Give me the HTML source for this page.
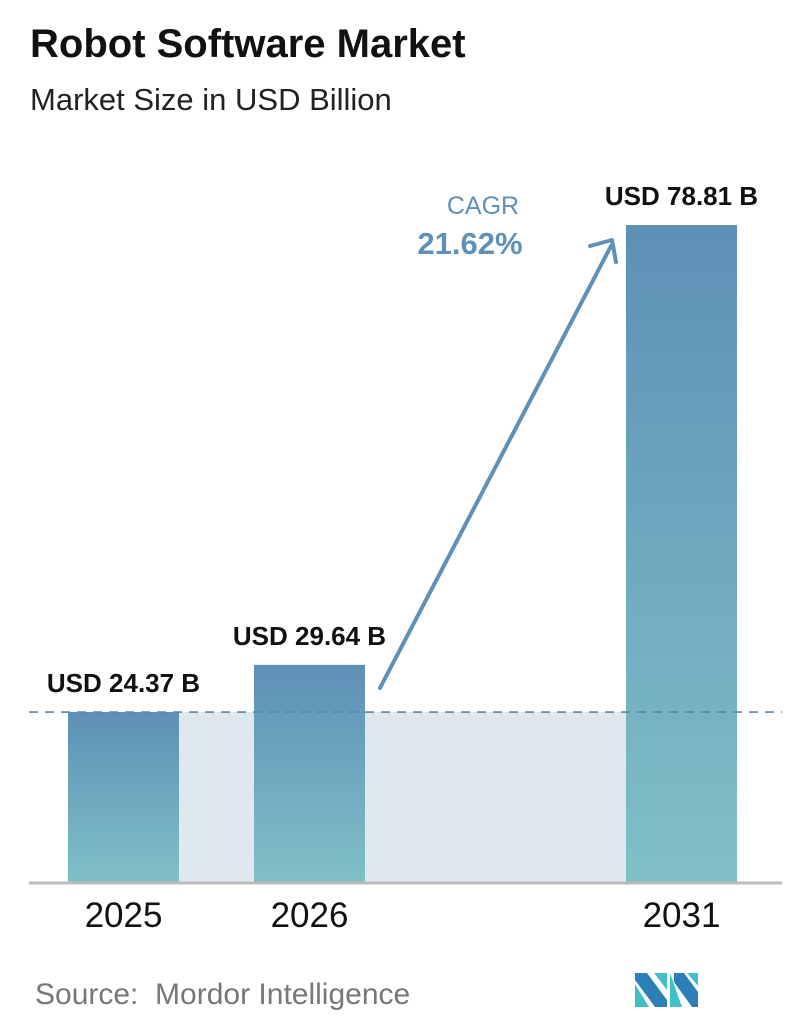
<!DOCTYPE html>
<html><head><meta charset="utf-8"><style>
body{margin:0;width:796px;height:1034px;background:#fff;font-family:"Liberation Sans",sans-serif;overflow:hidden;position:relative}
.t{position:absolute;white-space:nowrap}
</style></head><body>
<div class="t" style="left:30px;top:22px;font-size:40px;font-weight:bold;color:#111">Robot Software Market</div>
<div class="t" style="left:30px;top:82px;font-size:31px;color:#222">Market Size in USD Billion</div>
<svg id="chart" width="796" height="1034" style="position:absolute;left:0;top:0">
<defs><linearGradient id="g" x1="0" y1="0" x2="0" y2="1"><stop offset="0" stop-color="#5e90b6"/><stop offset="1" stop-color="#7fc0c7"/></linearGradient></defs>
</svg>
<div class="t" style="left:35px;top:978px;font-size:30px;color:#777">Source:&nbsp; Mordor Intelligence</div>
<svg width="70" height="40" style="position:absolute;left:632px;top:970px">
<polygon points="3,3 15,3 35,30 35,37 23,37 3,10" fill="#2d7fb8"/>
<polygon points="3,14 3,37 17,37" fill="#40bfc9"/>
<polygon points="22,3 35,3 35,20" fill="#40bfc9"/>
<polygon points="38,3 38,37 50,37" fill="#40bfc9"/>
<polygon points="42,3 52,3 66,22 66,37 60,37 42,12" fill="#2d7fb8"/>
<polygon points="55,3 66,3 66,16" fill="#40bfc9"/>
</svg>
<script>
const categories=["2025","2026","2031"];
const values=[24.37,29.64,78.81];
const labels=["USD 24.37 B","USD 29.64 B","USD 78.81 B"];
const cagr="21.62%";
const ns="http://www.w3.org/2000/svg";
const svg=document.getElementById('chart');
const base=882, vmin=5.37, k=8.946;
const y=v=>base-(v-vmin)*k;
const xs=[68,254,626], bw=111;
function mk(t,a){const e=document.createElementNS(ns,t);for(const q in a)e.setAttribute(q,a[q]);svg.appendChild(e);return e;}
const y0=y(values[0]);
const bg=mk('rect',{x:xs[0]+bw,y:y0,width:xs[2]-xs[0]-bw,height:base-y0,fill:'#dfe7ef'});


categories.forEach((c,i)=>{
 const b=mk('rect',{x:xs[i],y:y(values[i]),width:bw,height:base-y(values[i]),fill:'url(#g)'});
 
 
 const l=mk('text',{x:xs[i]+bw/2,y:y(values[i])-20,'text-anchor':'middle','font-size':'26','font-weight':'bold',fill:'#111'});
 l.textContent=labels[i];
 
 
 const xl=mk('text',{x:xs[i]+bw/2,y:927,'text-anchor':'middle','font-size':'35',fill:'#111'});
 xl.textContent=c;
 
 
});
const d=mk('line',{x1:29,y1:y0,x2:782,y2:y0,stroke:'#5a86aa','stroke-width':1.6,'stroke-dasharray':'9,7'});


const ax=mk('line',{x1:29,y1:base+1,x2:782,y2:base+1,stroke:'#bbb','stroke-width':3});


const ar=mk('path',{d:'M380,688 L611,246 M590,246 L612,240 L616,262',stroke:'#5f90b8','stroke-width':4,fill:'none','stroke-linecap':'round','stroke-linejoin':'round'});


const c1=mk('text',{x:483,y:214,'text-anchor':'middle','font-size':'25',fill:'#5f90b8'});
c1.textContent='CAGR';


const c2=mk('text',{x:470,y:254,'text-anchor':'middle','font-size':'31','font-weight':'bold',fill:'#5f90b8'});
c2.textContent=cagr;


</script>
</body></html>
